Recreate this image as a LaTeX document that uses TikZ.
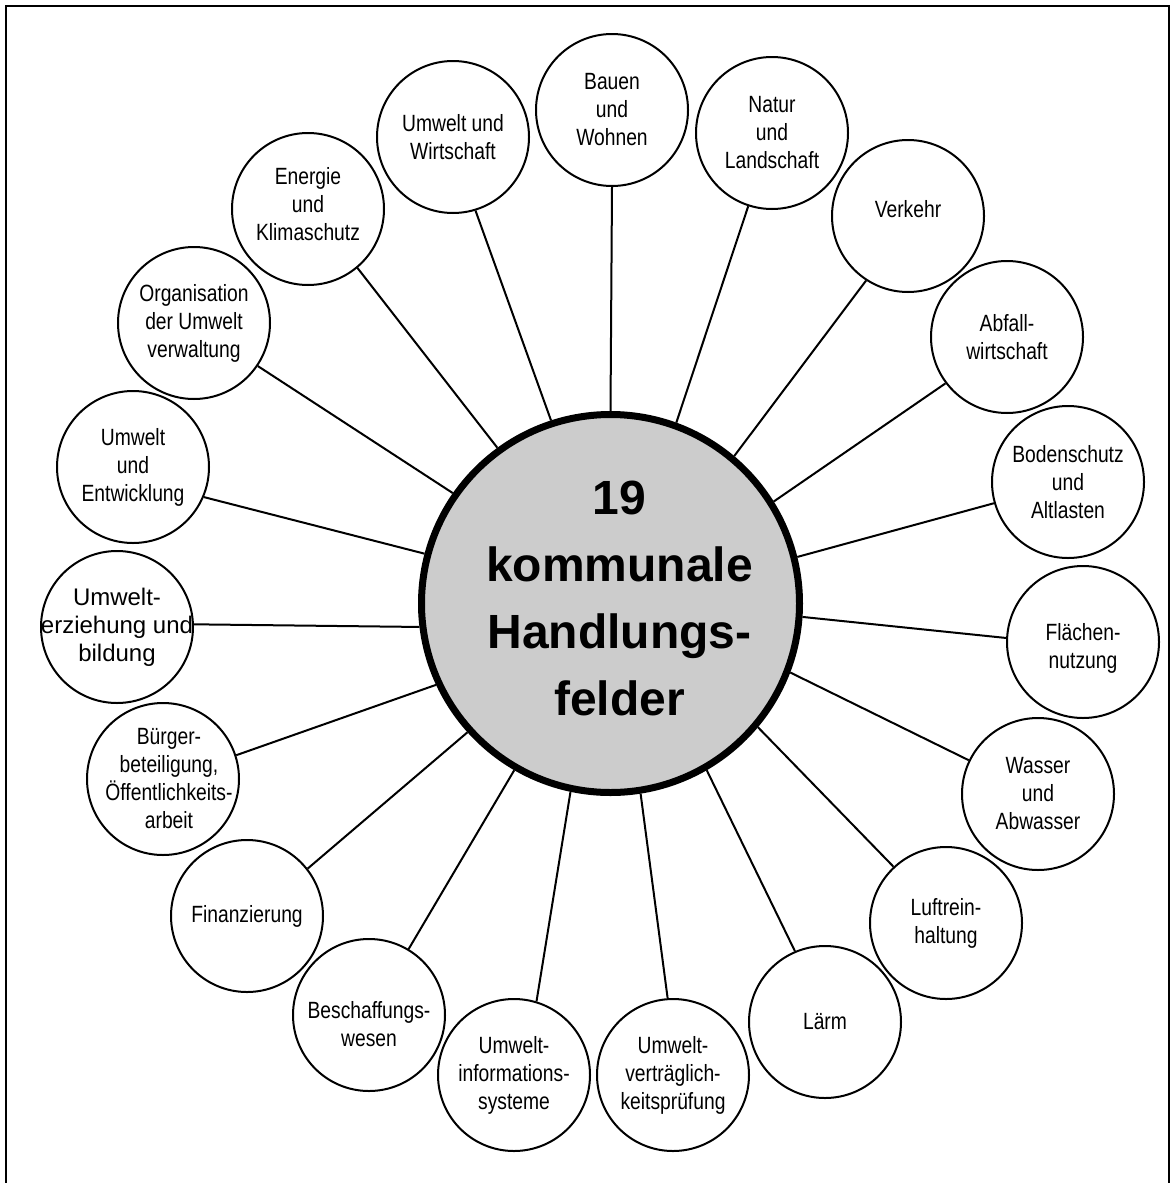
\documentclass[tikz,border=0pt]{standalone}
\usepackage{fontspec}
\setmainfont{Liberation Sans}
\newfontfamily\narrowfont{Liberation Sans}[FakeStretch=0.82]
\definecolor{hubfill}{RGB}{204,204,204}
\begin{document}
\begin{tikzpicture}[x=1pt,y=-1pt,
  field/.style={circle, draw, line width=2pt, minimum size=152pt, inner sep=0pt, fill=white},
  ftext/.style={font=\narrowfont\fontsize{23.5}{28}\selectfont, align=center, inner sep=0pt},
  ftextwide/.style={font=\fontsize{24}{28}\selectfont, align=center, inner sep=0pt},
  hub/.style={circle, draw, line width=7pt, minimum size=378pt, inner sep=0pt, fill=hubfill},
  htext/.style={font=\bfseries\fontsize{48}{66.7}\selectfont, align=center, inner sep=0pt},
  link/.style={line width=2pt},
  frame/.style={line width=2pt, line join=miter}]
\useasboundingbox (0,0) rectangle (1175,1183);
\draw[frame] (6,1195) -- (6,6) -- (1169,6) -- (1169,1195);

\node[hub, label={[htext,xshift=9pt,yshift=5pt]center:{19\\kommunale\\Handlungs-\\felder}}] (hub) at (610.5,603.5) {};

\node[field, label={[ftext]center:{Bauen\\und\\Wohnen}}] (bau) at (612,110) {};
\node[field, label={[ftext]center:{Natur\\und\\Landschaft}}] (nat) at (772,133) {};
\node[field, label={[ftext,yshift=7pt]center:{Verkehr}}] (ver) at (908,216) {};
\node[field, label={[ftext]center:{Abfall-\\wirtschaft}}] (abf) at (1007,337) {};
\node[field, label={[ftext]center:{Bodenschutz\\und\\Altlasten}}] (bod) at (1068,482) {};
\node[field, label={[ftext,yshift=-6pt]center:{Flächen-\\nutzung}}] (fla) at (1083,642) {};
\node[field, label={[ftext]center:{Wasser\\und\\Abwasser}}] (was) at (1038,794) {};
\node[field, label={[ftext]center:{Luftrein-\\haltung}}] (luf) at (946,923) {};
\node[field, label={[ftext]center:{Lärm}}] (lae) at (825,1022) {};
\node[field, label={[ftext]center:{Umwelt-\\verträglich-\\keitsprüfung}}] (uvp) at (673,1075) {};
\node[field, label={[ftext]center:{Umwelt-\\informations-\\systeme}}] (uis) at (514,1075) {};
\node[field, label={[ftext,yshift=-9pt]center:{Beschaffungs-\\wesen}}] (bes) at (369,1015) {};
\node[field, label={[ftext]center:{Finanzierung}}] (fin) at (247,916) {};
\node[field, label={[ftext,xshift=6pt]center:{Bürger-\\beteiligung,\\Öffentlichkeits-\\arbeit}}] (bue) at (163,779) {};
\node[field, label={[ftextwide]center:{Umwelt-\\erziehung und\\bildung}}] (ueb) at (117,627) {};
\node[field, label={[ftext]center:{Umwelt\\und\\Entwicklung}}] (uue) at (133,467) {};
\node[field, label={[ftext]center:{Organisation\\der Umwelt\\verwaltung}}] (org) at (194,323) {};
\node[field, label={[ftext,yshift=5pt]center:{Energie\\und\\Klimaschutz}}] (ene) at (308,209) {};
\node[field, label={[ftext]center:{Umwelt und\\Wirtschaft}}] (uuw) at (453,137) {};

\draw[link] (hub.90) -- (bau.-90);
\draw[link] (hub.70.9) -- (nat.-108.4);
\draw[link] (hub.50.2) -- (ver.-123);
\draw[link] (hub.32.2) -- (abf.-143.9);
\draw[link] (hub.14.5) -- (bod.-164.6);
\draw[link] (hub.-4) -- (fla.177);
\draw[link] (hub.-21.7) -- (was.154.8);
\draw[link] (hub.-40.3) -- (luf.133.4);
\draw[link] (hub.-60.8) -- (lae.113.9);
\draw[link] (hub.-81.2) -- (uvp.94.5);
\draw[link] (hub.-102.1) -- (uis.73.2);
\draw[link] (hub.-120.4) -- (bes.59.2);
\draw[link] (hub.-138) -- (fin.38.8);
\draw[link] (hub.-155.9) -- (bue.18);
\draw[link] (hub.-173.9) -- (ueb.2.2);
\draw[link] (hub.165.9) -- (uue.-23.3);
\draw[link] (hub.145.5) -- (org.-34.9);
\draw[link] (hub.126.9) -- (ene.-50.7);
\draw[link] (hub.108.4) -- (uuw.-73.2);
\end{tikzpicture}
\end{document}
